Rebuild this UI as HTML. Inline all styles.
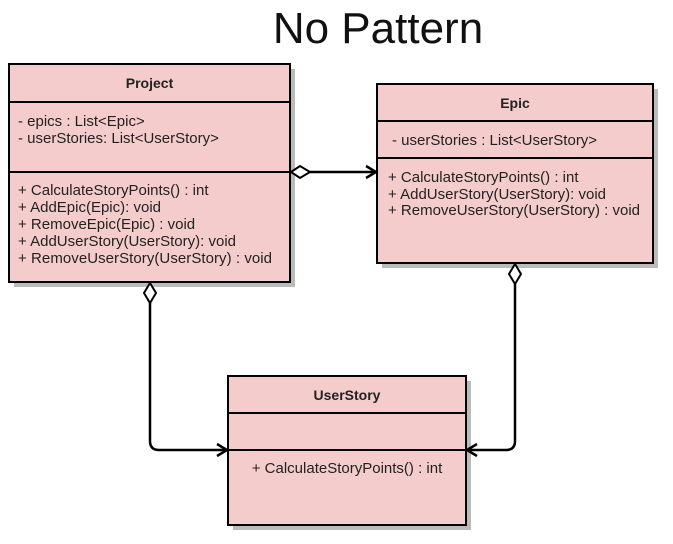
<!DOCTYPE html>
<html><head><meta charset="utf-8"><style>
body{margin:0;width:673px;height:539px;background:#fff;overflow:hidden}
</style></head><body>
<svg width="673" height="539" xmlns="http://www.w3.org/2000/svg" font-family="Liberation Sans, Arial, sans-serif">
<text x="378" y="43" font-size="44" text-anchor="middle" fill="#111">No Pattern</text>
<!-- shadows -->
<rect x="14" y="69" width="281" height="218" fill="#bbb"/>
<rect x="382" y="89" width="276" height="179" fill="#bbb"/>
<rect x="233" y="381" width="238" height="149" fill="#bbb"/>
<!-- Project -->
<rect x="9" y="64" width="281" height="218" fill="#f4cccc" stroke="#000" stroke-width="2"/>
<line x1="9" y1="102" x2="290" y2="102" stroke="#000" stroke-width="2"/>
<line x1="9" y1="172" x2="290" y2="172" stroke="#000" stroke-width="2"/>
<text x="149.5" y="88" font-size="14" font-weight="bold" text-anchor="middle" fill="#222">Project</text>
<g font-size="15" fill="#222" textLength="">
<text x="18" y="126">- epics : List&lt;Epic&gt;</text>
<text x="18" y="143">- userStories: List&lt;UserStory&gt;</text>
<text x="18" y="195">+ CalculateStoryPoints() : int</text>
<text x="18" y="212">+ AddEpic(Epic): void</text>
<text x="18" y="229">+ RemoveEpic(Epic) : void</text>
<text x="18" y="246">+ AddUserStory(UserStory): void</text>
<text x="18" y="263" textLength="254">+ RemoveUserStory(UserStory) : void</text>
</g>
<!-- Epic -->
<rect x="377" y="84" width="276" height="179" fill="#f4cccc" stroke="#000" stroke-width="2"/>
<line x1="377" y1="121" x2="653" y2="121" stroke="#000" stroke-width="2"/>
<line x1="377" y1="158" x2="653" y2="158" stroke="#000" stroke-width="2"/>
<text x="515" y="108" font-size="14" font-weight="bold" text-anchor="middle" fill="#222">Epic</text>
<g font-size="15" fill="#222">
<text x="392" y="145">- userStories : List&lt;UserStory&gt;</text>
<text x="388" y="182">+ CalculateStoryPoints() : int</text>
<text x="388" y="199">+ AddUserStory(UserStory): void</text>
<text x="388" y="215" textLength="252">+ RemoveUserStory(UserStory) : void</text>
</g>
<!-- UserStory -->
<rect x="228" y="376" width="238" height="149" fill="#f4cccc" stroke="#000" stroke-width="2"/>
<line x1="228" y1="413" x2="466" y2="413" stroke="#000" stroke-width="2"/>
<line x1="228" y1="450" x2="466" y2="450" stroke="#000" stroke-width="2"/>
<text x="347" y="400" font-size="14" font-weight="bold" text-anchor="middle" fill="#222">UserStory</text>
<text x="347" y="473" font-size="15" text-anchor="middle" fill="#222">+ CalculateStoryPoints() : int</text>
<!-- connectors -->
<g stroke="#000" stroke-width="2.5" fill="none">
<path d="M310 172 H374"/>
<path d="M366 166 L376 172 L366 178"/>
<path d="M150 303 V441 Q150 450 159 450 H225"/>
<path d="M217 444 L227 450 L217 456"/>
<path d="M515 284 V441 Q515 450 506 450 H469"/>
<path d="M477 444 L467 450 L477 456"/>
</g>
<g stroke="#000" stroke-width="2" fill="#fff">
<path d="M291 172 L300 166 L310 172 L300 178 Z"/>
<path d="M150 283 L156 293 L150 303 L144 293 Z"/>
<path d="M515 264 L521 274 L515 284 L509 274 Z"/>
</g>
</svg>
</body></html>
